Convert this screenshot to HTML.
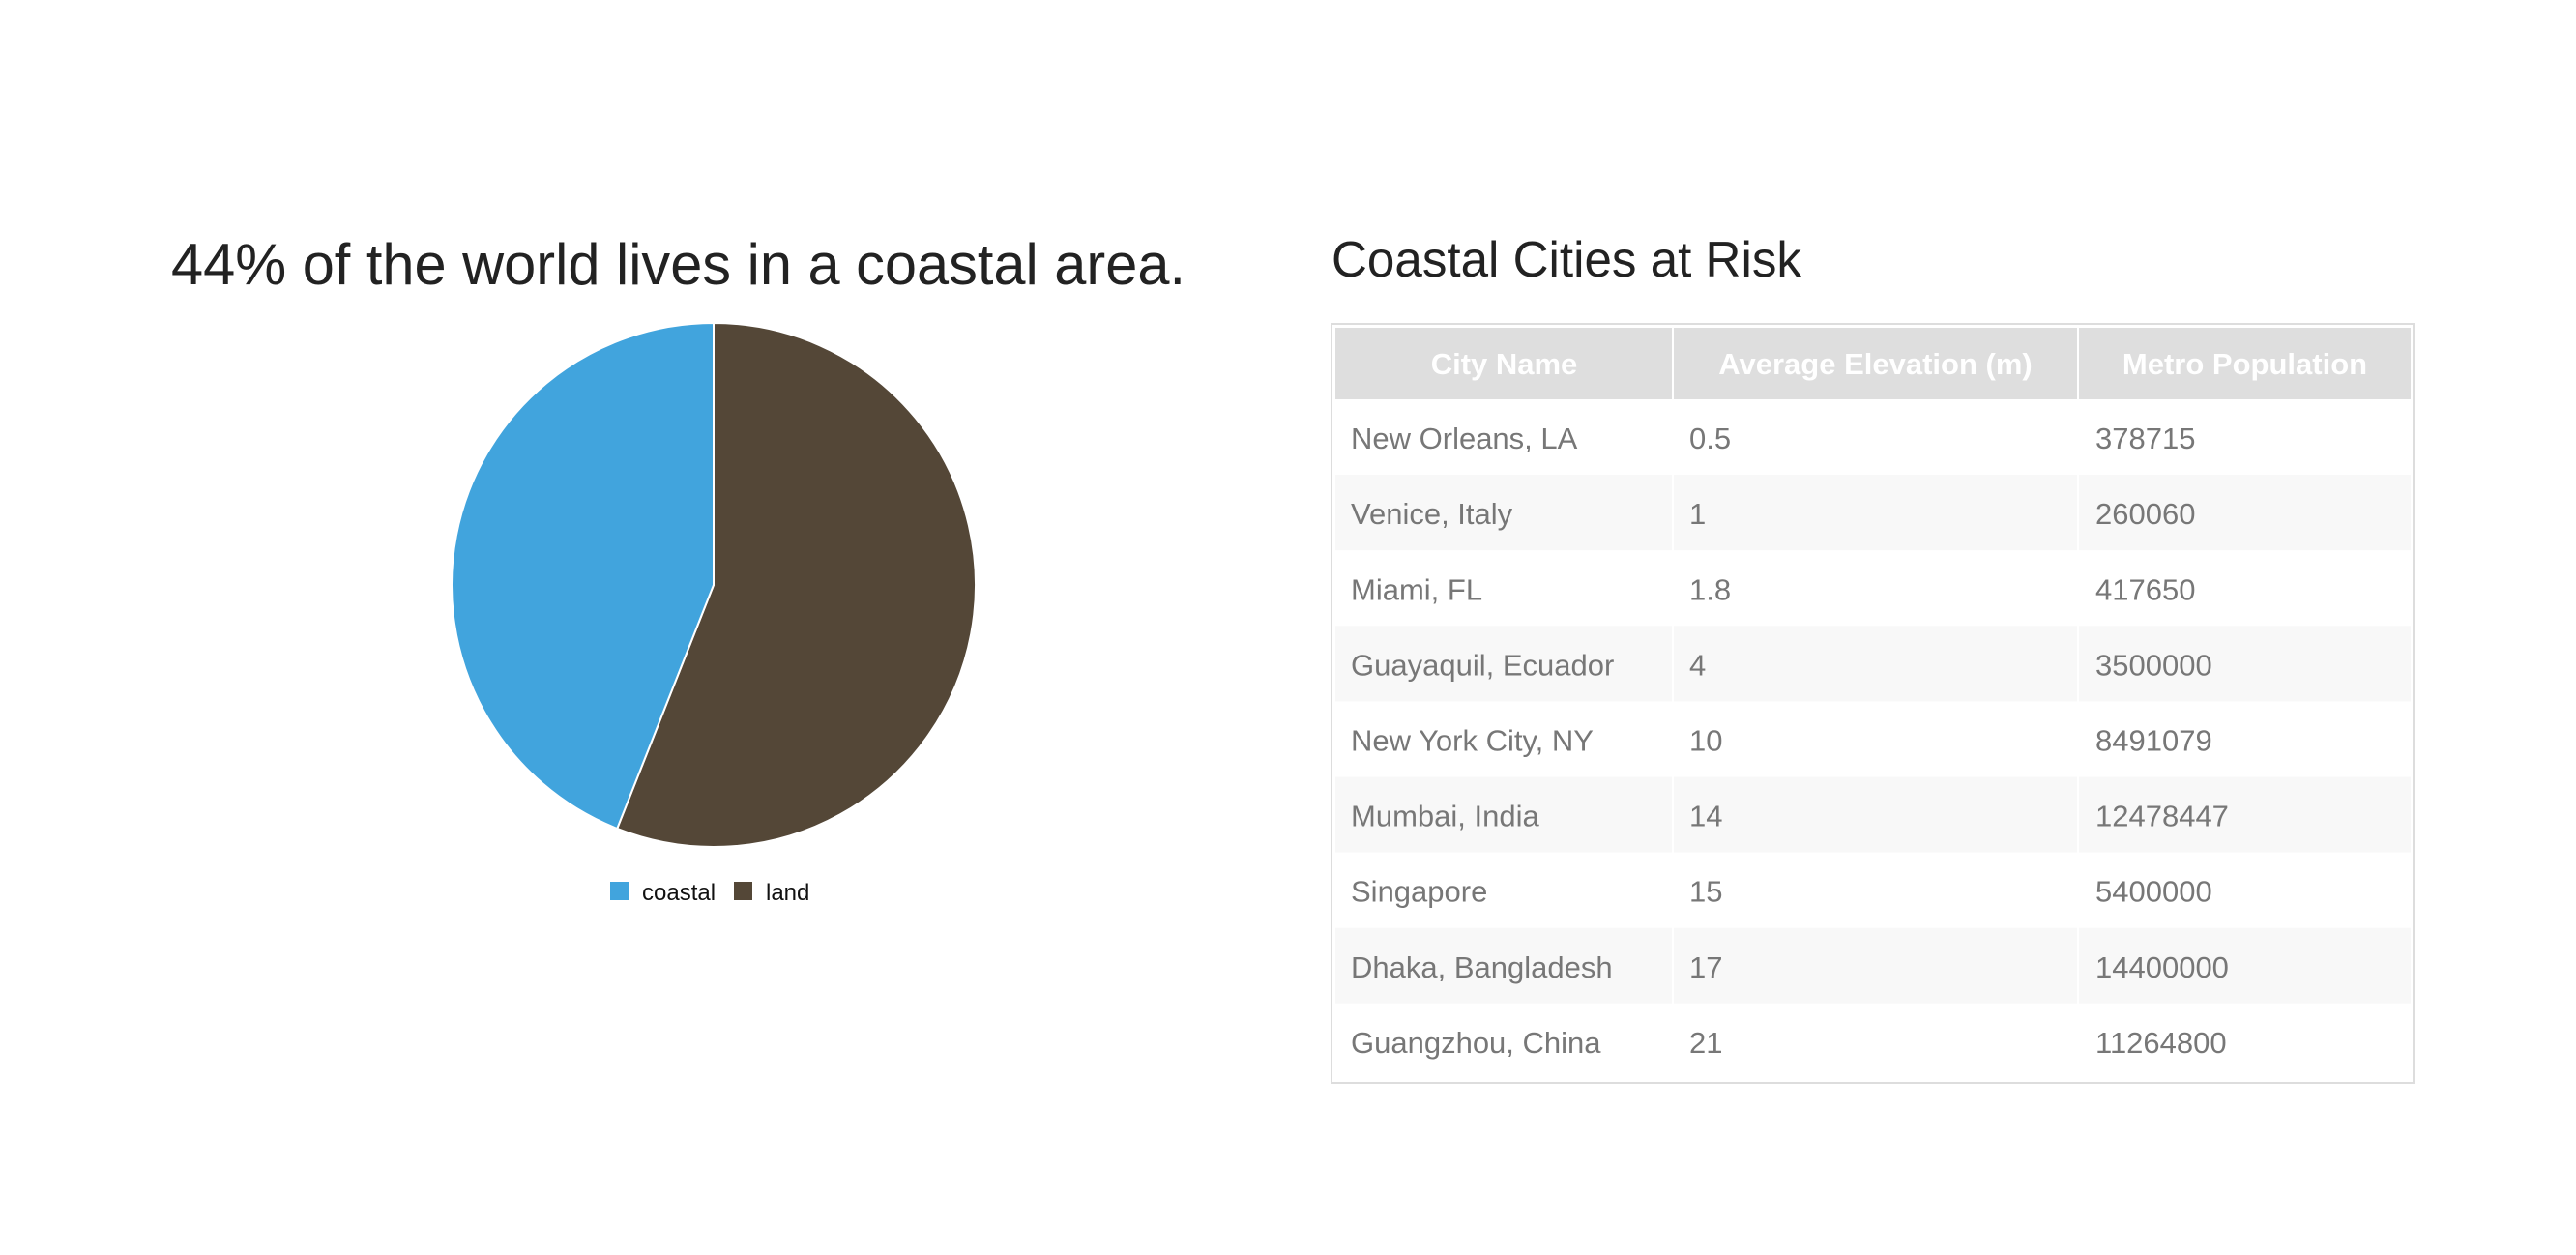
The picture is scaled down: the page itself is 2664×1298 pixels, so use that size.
<!DOCTYPE html>
<html><head><meta charset="utf-8"><style>
html,body{margin:0;padding:0;background:#fff;}
svg{display:block;font-family:"Liberation Sans",sans-serif;}
</style></head><body>
<svg id="root" width="2664" height="1298" viewBox="0 0 2664 1298" xmlns="http://www.w3.org/2000/svg">
<text x="177" y="294" font-size="60" fill="#222" textLength="1049" lengthAdjust="spacingAndGlyphs">44% of the world lives in a coastal area.</text>
<g id="pie"></g>
<g id="legend"></g>
<text x="1377" y="286" font-size="52" fill="#222" textLength="486" lengthAdjust="spacingAndGlyphs">Coastal Cities at Risk</text>
<g id="table"></g>
</svg>
<script>
const sliceLabels = ["land", "coastal"];
const sliceValues = [56, 44];
const sliceColors = ["#544737", "#41a4dd"];
const legendLabels = ["coastal", "land"];

const cityNames = ["New Orleans, LA","Venice, Italy","Miami, FL","Guayaquil, Ecuador","New York City, NY","Mumbai, India","Singapore","Dhaka, Bangladesh","Guangzhou, China"];
const elevations = ["0.5","1","1.8","4","10","14","15","17","21"];
const populations = ["378715","260060","417650","3500000","8491079","12478447","5400000","14400000","11264800"];
const headers = ["City Name","Average Elevation (m)","Metro Population"];

const NS = "http://www.w3.org/2000/svg";
function mk(tag, attrs, parent){ const e=document.createElementNS(NS,tag); for(const k in attrs) e.setAttribute(k,attrs[k]); parent.appendChild(e); return e; }

// pie
const cx=738, cy=605, r=271;
const pie=document.getElementById('pie');
const total=sliceValues.reduce((a,b)=>a+b,0);
let ang=0;
function pt(a){ return [cx+r*Math.sin(a), cy-r*Math.cos(a)]; }
sliceValues.forEach((v,i)=>{
  const a0=ang, a1=ang+v/total*2*Math.PI; ang=a1;
  const p0=pt(a0), p1=pt(a1);
  const large=(a1-a0)>Math.PI?1:0;
  const p=mk('path',{d:`M${cx},${cy} L${p0[0]},${p0[1]} A${r},${r} 0 ${large} 1 ${p1[0]},${p1[1]} Z`,fill:sliceColors[i],stroke:'#fff','stroke-width':2},pie);
  
  
});

// legend
const lg=document.getElementById('legend');
const lx=[631,759];
legendLabels.forEach((l,i)=>{
  const col=sliceColors[sliceLabels.indexOf(l)];
  const g=mk('g',{},lg);
  
  
  mk('rect',{x:lx[i],y:912,width:19,height:19,fill:col},g);
  mk('text',{x:lx[i]+33,y:931,'font-size':24,fill:'#111'},g).textContent=l;
});

// table
const tb=document.getElementById('table');
const colX=[1381,1730,2149,2494];
const headTop=339, headBot=413, rowH=78.1;
mk('rect',{x:1377,y:335,width:1119,height:785,fill:'#fff',stroke:'#ddd','stroke-width':2},tb);
headers.forEach((h,i)=>{
  const g=mk('g',{},tb);
  
  
  mk('rect',{x:colX[i]+(i?1:0),y:headTop,width:colX[i+1]-colX[i]-(i?1:0)-1,height:headBot-headTop,fill:'#dedede'},g);
  mk('text',{x:(colX[i]+colX[i+1])/2,y:387,'font-size':31,'font-weight':'bold',fill:'#fff','text-anchor':'middle'},g).textContent=h;
});
const txX=[1397,1747,2167];
cityNames.forEach((c,r)=>{
  const y0=headBot+r*rowH;
  const g=mk('g',{},tb);
  
  
  if(r%2===1){
    for(let i=0;i<3;i++) mk('rect',{x:colX[i]+(i?1:0),y:y0,width:colX[i+1]-colX[i]-(i?1:0)-1,height:rowH,fill:'#f8f8f8'},g);
  }
  [c,elevations[r],populations[r]].forEach((t,i)=>{
    mk('text',{x:txX[i],y:y0+rowH/2+12,'font-size':31,fill:'#777'},g).textContent=t;
  });
});
</script>
</body></html>
